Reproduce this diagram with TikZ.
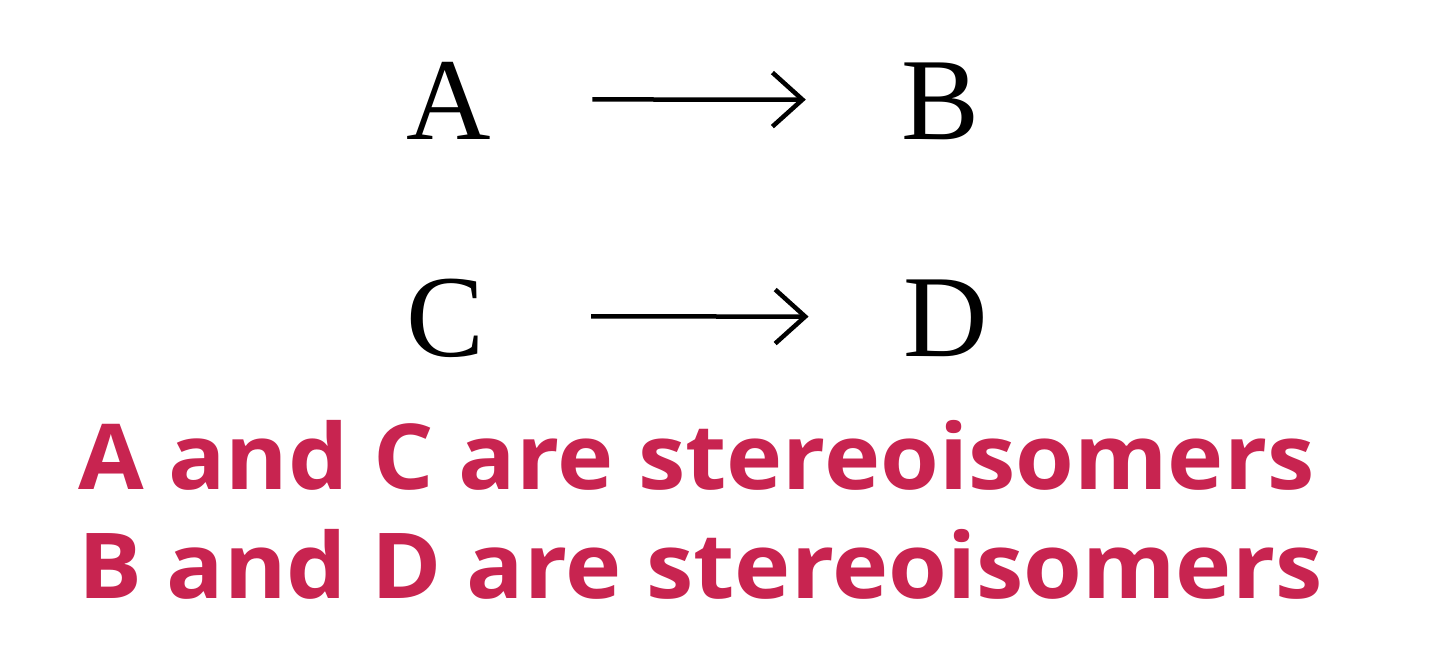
\documentclass[tikz,border=0pt]{standalone}
\usepackage{fontspec}
\setmainfont{Liberation Serif}
\newfontfamily\redfont[FakeStretch=1.045]{Open Sans}
\usetikzlibrary{arrows.meta}
\definecolor{crimson}{RGB}{200,36,80}
\tikzset{
  letter/.style={anchor=base, inner sep=0pt, text depth=0pt, font=\fontsize{117}{117}\selectfont},
  arr/.style={line width=4.5pt, -{Straight Barb[length=30pt,width=54pt,line width=4.5pt]}},
  redline/.style={anchor=base west, inner sep=0pt, text=crimson, font=\redfont\bfseries\fontsize{91}{91}\selectfont}
}
\begin{document}
\begin{tikzpicture}[x=1pt,y=1pt]
\useasboundingbox (0,0) rectangle (1440,656);
\node[letter] (A) at (449,516) {A};
\node[letter] (B) at (941,516) {B};
\node[letter] (C) at (446,299) {C};
\node[letter] (D) at (946,299) {D};
\draw[arr, shorten <=101pt, shorten >=96pt] ([yshift=2pt]A.east) -- ([yshift=2pt]B.west);
\draw[arr, shorten <=106pt, shorten >=95pt] ([yshift=2pt]C.east) -- ([yshift=2pt]D.west);
\node[redline] (L1) at (78,166) {A and C are stereoisomers};
\node[redline] (L2) at (78,58) {B and D are stereoisomers};
\end{tikzpicture}
\end{document}
